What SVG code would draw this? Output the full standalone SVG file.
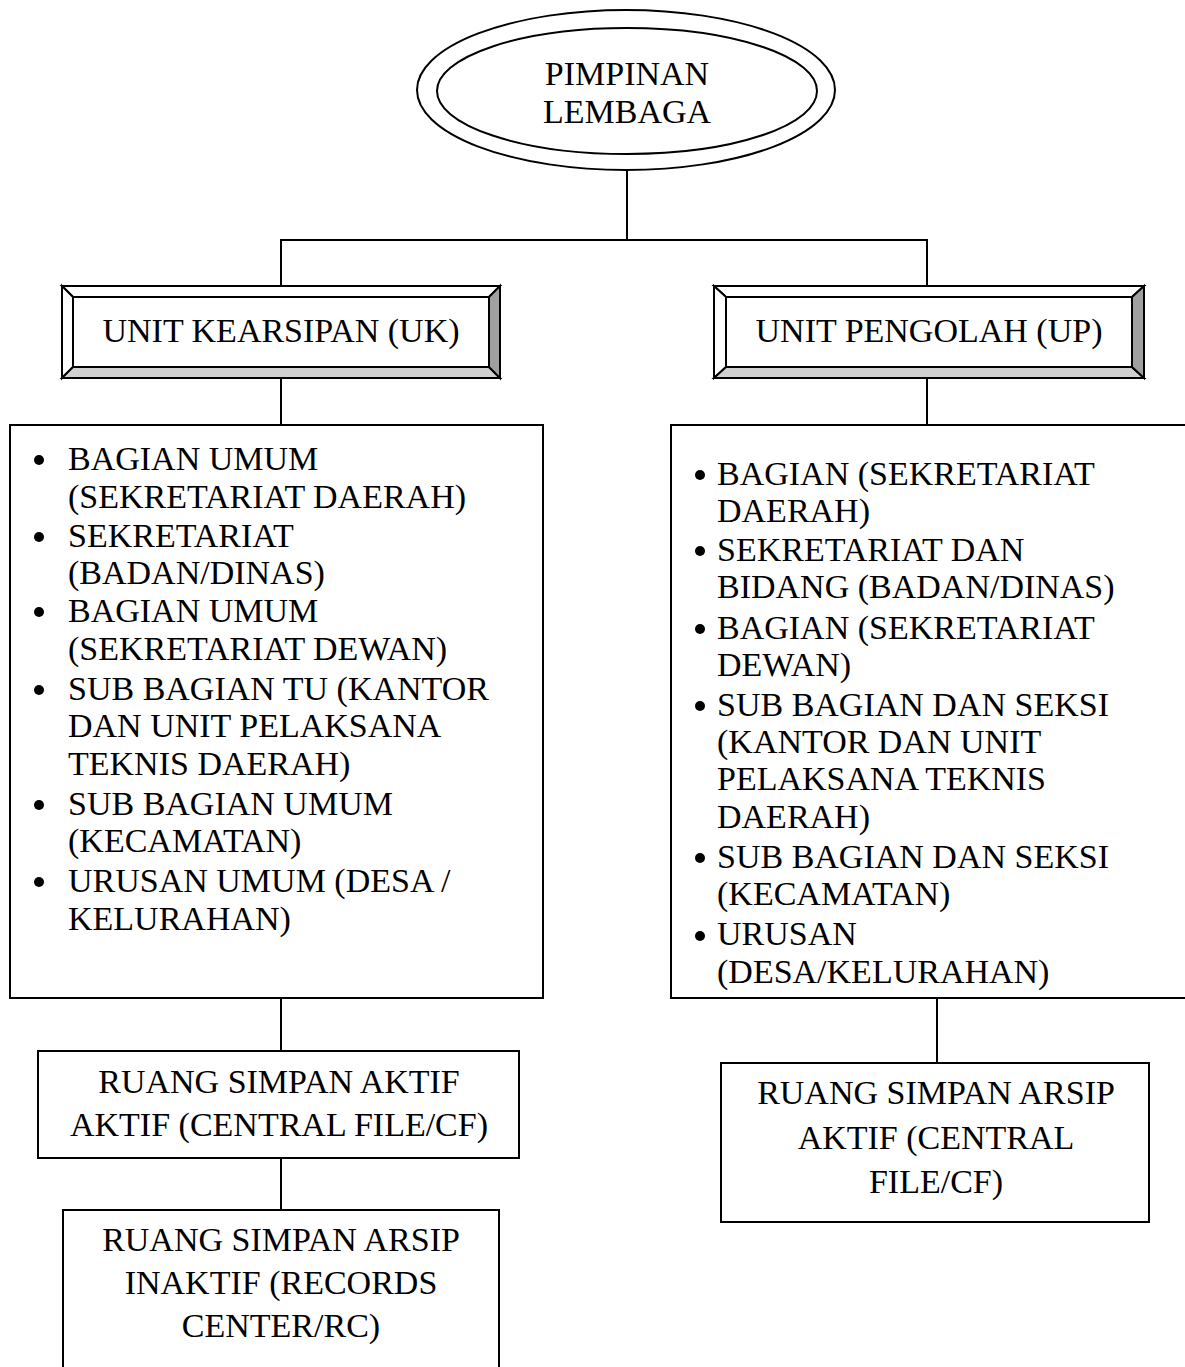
<svg xmlns="http://www.w3.org/2000/svg" width="1185" height="1367" viewBox="0 0 1185 1367">
<style>
text{font-family:"Liberation Serif","Times New Roman",serif;font-size:34px;fill:#000}
.c{text-anchor:middle}
.box{fill:#fff;stroke:#000;stroke-width:2}
.ln{stroke:#000;stroke-width:2;fill:none}
.bv{stroke:#000;stroke-width:2;stroke-linejoin:miter}
.hi{fill:#fff}
.lo{fill:#d0d0d0}
.dk{fill:#a0a0a0}
</style>
<rect width="1185" height="1367" fill="#fff"/>
<g id="connectors">
<line class="ln" x1="627" y1="170" x2="627" y2="240"/>
<line class="ln" x1="280" y1="240" x2="928" y2="240"/>
<line class="ln" x1="281" y1="240" x2="281" y2="286"/>
<line class="ln" x1="927" y1="240" x2="927" y2="286"/>
<line class="ln" x1="281" y1="378" x2="281" y2="425"/>
<line class="ln" x1="927" y1="378" x2="927" y2="425"/>
<line class="ln" x1="281" y1="998" x2="281" y2="1051"/>
<line class="ln" x1="937" y1="998" x2="937" y2="1063"/>
<line class="ln" x1="281" y1="1158" x2="281" y2="1210"/>
</g>
<g id="pimpinan">
<ellipse cx="626" cy="90" rx="209" ry="80" class="box"/>
<ellipse cx="627" cy="91" rx="190" ry="63" class="box"/>
<text class="c" x="627" y="85">PIMPINAN</text>
<text class="c" x="627" y="123">LEMBAGA</text>
</g>
<g id="unit-kearsipan">
<polygon class="bv hi" points="62,286 500,286 489,297 73,297"/>
<polygon class="bv hi" points="62,286 73,297 73,367 62,378"/>
<polygon class="bv lo" points="62,378 73,367 489,367 500,378"/>
<polygon class="bv dk" points="500,286 500,378 489,367 489,297"/>
<rect class="box" x="73" y="297" width="416" height="70"/>
<text class="c" x="281" y="342">UNIT KEARSIPAN (UK)</text>
</g>
<g id="unit-pengolah">
<polygon class="bv hi" points="714,286 1144,286 1132,297 726,297"/>
<polygon class="bv hi" points="714,286 726,297 726,367 714,378"/>
<polygon class="bv lo" points="714,378 726,367 1132,367 1144,378"/>
<polygon class="bv dk" points="1144,286 1144,378 1132,367 1132,297"/>
<rect class="box" x="726" y="297" width="406" height="70"/>
<text class="c" x="929" y="342">UNIT PENGOLAH (UP)</text>
</g>
<g id="list-uk">
<rect class="box" x="10" y="425" width="533" height="573"/>
<circle cx="39" cy="460" r="5"/>
<circle cx="39" cy="537" r="5"/>
<circle cx="39" cy="612" r="5"/>
<circle cx="39" cy="690" r="5"/>
<circle cx="39" cy="805" r="5"/>
<circle cx="39" cy="882" r="5"/>
<text x="68" y="470">BAGIAN UMUM</text>
<text x="68" y="508">(SEKRETARIAT DAERAH)</text>
<text x="68" y="547">SEKRETARIAT</text>
<text x="68" y="584">(BADAN/DINAS)</text>
<text x="68" y="622">BAGIAN UMUM</text>
<text x="68" y="660">(SEKRETARIAT DEWAN)</text>
<text x="68" y="700">SUB BAGIAN TU (KANTOR</text>
<text x="68" y="737">DAN UNIT PELAKSANA</text>
<text x="68" y="775">TEKNIS DAERAH)</text>
<text x="68" y="815">SUB BAGIAN UMUM</text>
<text x="68" y="852">(KECAMATAN)</text>
<text x="68" y="892">URUSAN UMUM (DESA /</text>
<text x="68" y="930">KELURAHAN)</text>
</g>
<g id="list-up">
<rect class="box" x="671" y="425" width="530" height="573"/>
<circle cx="700" cy="475" r="5"/>
<circle cx="700" cy="551" r="5"/>
<circle cx="700" cy="629" r="5"/>
<circle cx="700" cy="706" r="5"/>
<circle cx="700" cy="858" r="5"/>
<circle cx="700" cy="936" r="5"/>
<text x="717" y="485">BAGIAN (SEKRETARIAT</text>
<text x="717" y="522">DAERAH)</text>
<text x="717" y="561">SEKRETARIAT DAN</text>
<text x="717" y="598">BIDANG (BADAN/DINAS)</text>
<text x="717" y="639">BAGIAN (SEKRETARIAT</text>
<text x="717" y="676">DEWAN)</text>
<text x="717" y="716">SUB BAGIAN DAN SEKSI</text>
<text x="717" y="753">(KANTOR DAN UNIT</text>
<text x="717" y="790">PELAKSANA TEKNIS</text>
<text x="717" y="828">DAERAH)</text>
<text x="717" y="868">SUB BAGIAN DAN SEKSI</text>
<text x="717" y="905">(KECAMATAN)</text>
<text x="717" y="945">URUSAN</text>
<text x="717" y="983">(DESA/KELURAHAN)</text>
</g>
<g id="ruang-aktif-uk">
<rect class="box" x="38" y="1051" width="481" height="107"/>
<text class="c" x="279" y="1093">RUANG SIMPAN AKTIF</text>
<text class="c" x="279" y="1136">AKTIF (CENTRAL FILE/CF)</text>
</g>
<g id="ruang-inaktif-uk">
<rect class="box" x="63" y="1210" width="436" height="180"/>
<text class="c" x="281" y="1251">RUANG SIMPAN ARSIP</text>
<text class="c" x="281" y="1294">INAKTIF (RECORDS</text>
<text class="c" x="281" y="1337">CENTER/RC)</text>
</g>
<g id="ruang-aktif-up">
<rect class="box" x="721" y="1063" width="428" height="159"/>
<text class="c" x="936" y="1104">RUANG SIMPAN ARSIP</text>
<text class="c" x="936" y="1149">AKTIF (CENTRAL</text>
<text class="c" x="936" y="1193">FILE/CF)</text>
</g>
</svg>
